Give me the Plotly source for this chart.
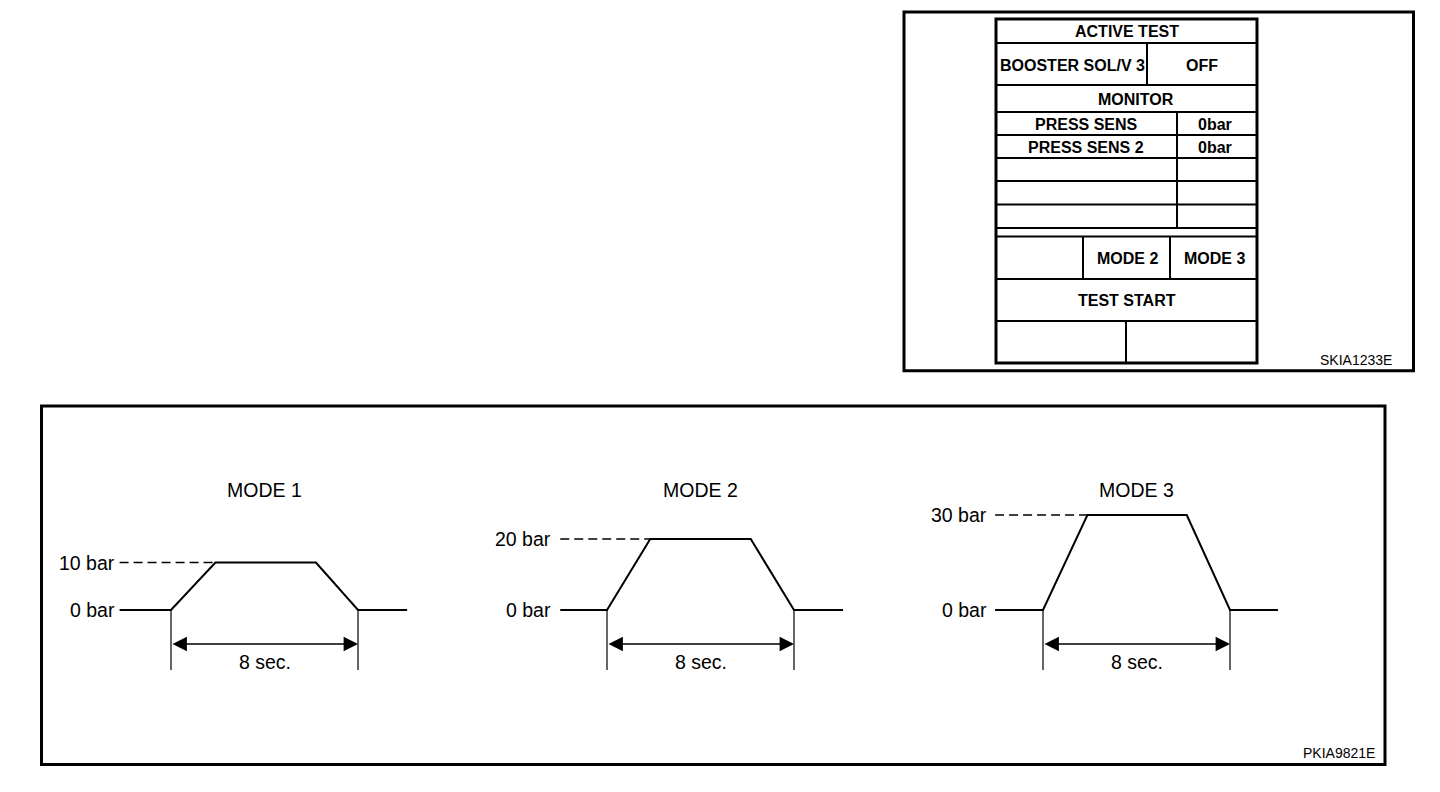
import plotly.graph_objects as go

# page is 1440x792; the browser body has an 8px margin, so the figure is 1432x784
PAGE_W, PAGE_H = 1440, 792
OFF = 8
W, H = PAGE_W - OFF, PAGE_H - OFF

# ---------------- data ----------------
mode_titles = ["MODE 1", "MODE 2", "MODE 3"]
peak_pressure_bar = [10, 20, 30]
zero_labels = ["0 bar", "0 bar", "0 bar"]
peak_labels = ["10 bar", "20 bar", "30 bar"]
duration_label = "8 sec."
test_duration_s = [8, 8, 8]
time_mode1 = [-2.2, 0.0, 1.9, 6.2, 8.0, 10.1]
time_mode2 = [-2.0, 0.0, 1.85, 6.15, 8.0, 10.1]
time_mode3 = [-2.05, 0.0, 1.9, 6.15, 8.0, 10.05]
pressure_mode1 = [0, 0, 10, 10, 0, 0]
pressure_mode2 = [0, 0, 20, 20, 0, 0]
pressure_mode3 = [0, 0, 30, 30, 0, 0]

active_test_title = "ACTIVE TEST"
active_item = "BOOSTER SOL/V 3"
active_state = "OFF"
monitor_title = "MONITOR"
monitor_items = ["PRESS SENS", "PRESS SENS 2"]
monitor_values = ["0bar", "0bar"]
mode_buttons = ["MODE 2", "MODE 3"]
start_button = "TEST START"
code_top = "SKIA1233E"
code_bottom = "PKIA9821E"

times = [time_mode1, time_mode2, time_mode3]
pressures = [pressure_mode1, pressure_mode2, pressure_mode3]

# ---------------- layout geometry (page pixel coordinates) ----------------
FONT = "Liberation Sans, Arial, Helvetica, sans-serif"
SX = 23.375                     # px per second
x_zero_px = [171, 607, 1043]
y_zero_px = 610
y_peak_px = [562.5, 539, 515]
Y_TOP_PX, Y_BOT_PX = 470, 690
T_MIN, T_MAX = -3.0, 11.0


def fx(px):
    return (px - OFF) / W


def fy(py):
    return 1 - (py - OFF) / H


fig = go.Figure()

# page axis (pixel units) for frames and the tester screen
fig.add_trace(go.Scatter(x=[OFF + 1], y=[OFF + 1], mode="markers", marker=dict(opacity=0),
                         hoverinfo="skip", showlegend=False, xaxis="x", yaxis="y"))
layout_axes = dict(
    xaxis=dict(domain=[0, 1], range=[OFF, PAGE_W], visible=False, fixedrange=True),
    yaxis=dict(domain=[0, 1], range=[PAGE_H, OFF], visible=False, fixedrange=True),
)

shapes = []
annotations = []


def line_shape(x0, y0, x1, y1, w=2, xref="x", yref="y"):
    shapes.append(dict(type="line", x0=x0, y0=y0, x1=x1, y1=y1, xref=xref, yref=yref,
                       line=dict(color="black", width=w)))


def text_ann(x, y, txt, size, bold=False, xanchor="center", xref="x", yref="y"):
    annotations.append(dict(x=x, y=y, xref=xref, yref=yref,
                            text=("<b>%s</b>" % txt) if bold else txt,
                            showarrow=False, xanchor=xanchor, yanchor="middle",
                            font=dict(family=FONT, size=size, color="black")))


# outer frames
shapes.append(dict(type="rect", x0=904, y0=12, x1=1413.5, y1=370.7, xref="x", yref="y",
                   line=dict(color="black", width=3)))
shapes.append(dict(type="rect", x0=41.5, y0=406, x1=1385, y1=764.5, xref="x", yref="y",
                   line=dict(color="black", width=3)))

# tester screen table
TL, TR, TT, TB = 996, 1257, 19, 363
shapes.append(dict(type="rect", x0=TL, y0=TT, x1=TR, y1=TB, xref="x", yref="y",
                   line=dict(color="black", width=3)))
for yy in [43, 85, 112, 135, 158, 181, 204.5, 228, 236.5, 279, 321]:
    line_shape(TL, yy, TR, yy, 2)
for (xx, y0, y1) in [(1147, 43, 85), (1177, 112, 228), (1083, 236.5, 279),
                     (1170, 236.5, 279), (1126, 321, 363)]:
    line_shape(xx, y0, xx, y1, 2)

TS = 16
text_ann(1127, 31.5, active_test_title, TS, True)
text_ann(1072, 65, active_item, TS, True)
text_ann(1202, 65, active_state, TS, True)
text_ann(1136, 99.5, monitor_title, TS, True)
for txt, val, yy in zip(monitor_items, monitor_values, [124.5, 147.5]):
    text_ann(1086, yy, txt, TS, True)
    text_ann(1215, yy, val, TS, True)
for txt, xx in zip(mode_buttons, [1127, 1214]):
    text_ann(xx, 258.5, txt, TS, True)
text_ann(1127, 300.5, start_button, TS, True)
text_ann(1356, 360, code_top, 14)
text_ann(1339, 753, code_bottom, 14)

# ---------------- mode diagrams ----------------
DS = 19.5
for i in range(3):
    n = i + 2
    xa, ya = "x%d" % n, "y%d" % n
    P = peak_pressure_bar[i]
    ky = (y_zero_px - y_peak_px[i]) / P
    x0 = x_zero_px[i]

    def ypx(py, ky=ky):
        return (y_zero_px - py) / ky

    layout_axes["xaxis%d" % n] = dict(domain=[fx(x0 + T_MIN * SX), fx(x0 + T_MAX * SX)],
                                      range=[T_MIN, T_MAX], visible=False, fixedrange=True,
                                      anchor=ya)
    layout_axes["yaxis%d" % n] = dict(domain=[fy(Y_BOT_PX), fy(Y_TOP_PX)],
                                      range=[ypx(Y_BOT_PX), ypx(Y_TOP_PX)], visible=False,
                                      fixedrange=True, anchor=xa)

    t = times[i]
    p = pressures[i]
    # pressure profile
    fig.add_trace(go.Scatter(x=t, y=p, mode="lines", line=dict(color="black", width=2),
                             xaxis=xa, yaxis=ya, showlegend=False, hoverinfo="skip"))
    # dashed reference to peak
    fig.add_trace(go.Scatter(x=[t[0], t[2]], y=[P, P], mode="lines",
                             line=dict(color="black", width=1.5, dash="9px,5px"),
                             xaxis=xa, yaxis=ya, showlegend=False, hoverinfo="skip"))
    # extension lines
    D = test_duration_s[i]
    fig.add_trace(go.Scatter(x=[0, 0, None, D, D], y=[0, ypx(670), None, 0, ypx(670)],
                             mode="lines", line=dict(color="black", width=1.2),
                             xaxis=xa, yaxis=ya, showlegend=False, hoverinfo="skip"))
    # dimension arrow
    y_arr = ypx(644)
    annotations.append(dict(x=D, y=y_arr, ax=0, ay=y_arr, xref=xa, yref=ya, axref=xa, ayref=ya,
                            text="", showarrow=True, arrowhead=2, startarrowhead=2,
                            arrowside="end+start", arrowsize=1.8, startarrowsize=1.8,
                            arrowwidth=1.6, arrowcolor="black", standoff=0, startstandoff=0))
    text_ann(D / 2, ypx(662), duration_label, DS, xref=xa, yref=ya)
    text_ann(D / 2, ypx(490), mode_titles[i], DS, xref=xa, yref=ya)
    text_ann(-2.3, 0, zero_labels[i], DS, xanchor="right", xref=xa, yref=ya)
    text_ann(-2.3, P, peak_labels[i], DS, xanchor="right", xref=xa, yref=ya)

fig.update_layout(
    width=W, height=H,
    margin=dict(l=0, r=0, t=0, b=0),
    paper_bgcolor="white", plot_bgcolor="rgba(0,0,0,0)",
    showlegend=False,
    shapes=shapes, annotations=annotations,
    **layout_axes,
)

fig.write_html("out.html")
